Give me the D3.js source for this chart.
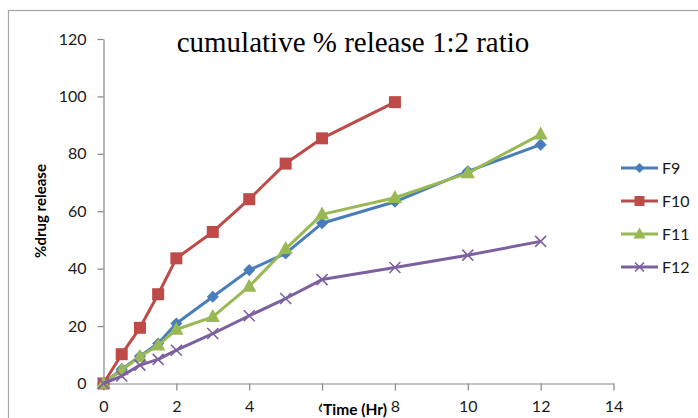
<!DOCTYPE html>
<html>
<head>
<meta charset="utf-8">
<script src="https://cdn.jsdelivr.net/npm/d3@7"></script>
<style>
  body { margin: 0; background: #fff; }
  svg { display: block; }
</style>
</head>
<body>
<div id="chart"></div>
<script>
// data
var times = [0, 0.5, 1, 1.5, 2, 3, 4, 5, 6, 8, 10, 12];
var f9  = [0, 5.0, 9.5, 13.9, 20.9, 30.2, 39.5, 45.3, 55.8, 63.3, 73.9, 83.2];
var f10 = [0, 10.2, 19.4, 31.1, 43.6, 52.8, 64.2, 76.6, 85.4, 98.0];
var f11 = [0, 4.7, 9.3, 13.3, 18.8, 23.2, 33.8, 46.9, 58.9, 64.7, 73.3, 86.8];
var f12 = [0, 2.6, 6.4, 8.4, 11.6, 17.4, 23.6, 29.6, 36.2, 40.4, 44.7, 49.5];
var seriesNames = ["F9", "F10", "F11", "F12"];
var xTicks = [0, 2, 4, 6, 8, 10, 12, 14];
var yTicks = [0, 20, 40, 60, 80, 100, 120];

var svgWidth = 698, svgHeight = 418;
var colors = ["#4a7ebb", "#be4b48", "#98b954", "#7d60a0"];
var shapes = ["diamond", "square", "triangle", "cross"];

var svg = d3.select("#chart").append("svg")
    .attr("width", svgWidth)
    .attr("height", svgHeight);

// outer chart border (runs off the picture to the right and bottom)
svg.append("rect")
    .attr("x", 8.5).attr("y", 10.5)
    .attr("width", 720).attr("height", 440)
    .attr("fill", "#fff")
    .attr("stroke", "#a6a6a6")
    .attr("stroke-width", 1.2);

var x = d3.scaleLinear().domain([0, 14]).range([103.5, 613.5]);
var y = d3.scaleLinear().domain([0, 120]).range([383.5, 39]);

var font = "Lato, 'Noto Sans', sans-serif";

// axes
var xAxis = svg.append("g")
    .attr("transform", "translate(0," + y(0) + ")")
    .call(d3.axisBottom(x).tickValues(xTicks).tickSize(7).tickPadding(10).tickSizeOuter(0));
var yAxis = svg.append("g")
    .attr("transform", "translate(" + x(0) + ",0)")
    .call(d3.axisLeft(y).tickValues(yTicks).tickSize(6).tickPadding(11).tickSizeOuter(0));

[xAxis, yAxis].forEach(function (g) {
    g.select(".domain").attr("stroke", "#868686").attr("stroke-width", 1.2);
    g.selectAll(".tick line").attr("stroke", "#868686").attr("stroke-width", 1.2);
    g.selectAll(".tick text")
        .attr("font-family", font)
        .attr("font-size", "16px")
        .attr("fill", "#1a1a1a");
});

// series
var allSeries = [f9, f10, f11, f12].map(function (vals, i) {
    return {
        name: seriesNames[i],
        color: colors[i],
        shape: shapes[i],
        points: vals.map(function (v, j) { return { t: times[j], v: v }; })
    };
});

var line = d3.line().x(d => x(d.t)).y(d => y(d.v));

function drawMarker(g, shape, color, cx, cy, s) {
    if (shape === "diamond") {
        g.append("path")
            .attr("d", "M" + cx + "," + (cy - s * 0.55) + "L" + (cx + s * 0.55) + "," + cy +
                "L" + cx + "," + (cy + s * 0.55) + "L" + (cx - s * 0.55) + "," + cy + "Z")
            .attr("fill", color);
    } else if (shape === "square") {
        g.append("rect")
            .attr("x", cx - s / 2).attr("y", cy - s / 2)
            .attr("width", s).attr("height", s)
            .attr("fill", color);
    } else if (shape === "triangle") {
        g.append("path")
            .attr("d", "M" + cx + "," + (cy - s * 0.6) + "L" + (cx + s * 0.55) + "," + (cy + s * 0.4) +
                "L" + (cx - s * 0.55) + "," + (cy + s * 0.4) + "Z")
            .attr("fill", color);
    } else {
        var h = s / 2;
        g.append("path")
            .attr("d", "M" + (cx - h) + "," + (cy - h) + "L" + (cx + h) + "," + (cy + h) +
                "M" + (cx + h) + "," + (cy - h) + "L" + (cx - h) + "," + (cy + h))
            .attr("stroke", color)
            .attr("stroke-width", 1.6);
    }
}

var markerSize = { diamond: 11, square: 12, triangle: 13, cross: 11 };

allSeries.forEach(function (s) {
    var g = svg.append("g");
    g.append("path")
        .datum(s.points)
        .attr("d", line)
        .attr("fill", "none")
        .attr("stroke", s.color)
        .attr("stroke-width", 3)
        .attr("stroke-linejoin", "round");
    s.points.forEach(function (p) {
        drawMarker(g, s.shape, s.color, x(p.t), y(p.v), markerSize[s.shape]);
    });
});

// chart title
svg.append("text")
    .attr("x", 353).attr("y", 52)
    .attr("text-anchor", "middle")
    .attr("font-family", "'Liberation Serif', 'Times New Roman', serif")
    .attr("font-size", "29px")
    .attr("fill", "#000")
    .text("cumulative % release 1:2 ratio");

// axis titles
svg.append("text")
    .attr("transform", "translate(46,211) rotate(-90)")
    .attr("text-anchor", "middle")
    .attr("font-family", font)
    .attr("font-size", "15px")
    .attr("font-weight", "bold")
    .attr("fill", "#000")
    .text("%drug release");

// x title sits over the 6 label, like the original
svg.append("rect")
    .attr("x", 322).attr("y", 400)
    .attr("width", 66).attr("height", 20)
    .attr("fill", "#fff");
svg.append("text")
    .attr("x", 323).attr("y", 415)
    .attr("font-family", font)
    .attr("font-size", "15.5px")
    .attr("font-weight", "bold")
    .attr("fill", "#000")
    .text("Time (Hr)");

// legend
var legend = svg.append("g");
allSeries.forEach(function (s, i) {
    var ly = 168 + i * 33;
    legend.append("line")
        .attr("x1", 621).attr("x2", 658)
        .attr("y1", ly).attr("y2", ly)
        .attr("stroke", s.color)
        .attr("stroke-width", 3);
    drawMarker(legend, s.shape, s.color, 639.5, ly, markerSize[s.shape] - 2);
    legend.append("text")
        .attr("x", 662).attr("y", ly + 5.5)
        .attr("font-family", font)
        .attr("font-size", "16px")
        .attr("fill", "#1a1a1a")
        .text(s.name);
});
</script>
</body>
</html>
